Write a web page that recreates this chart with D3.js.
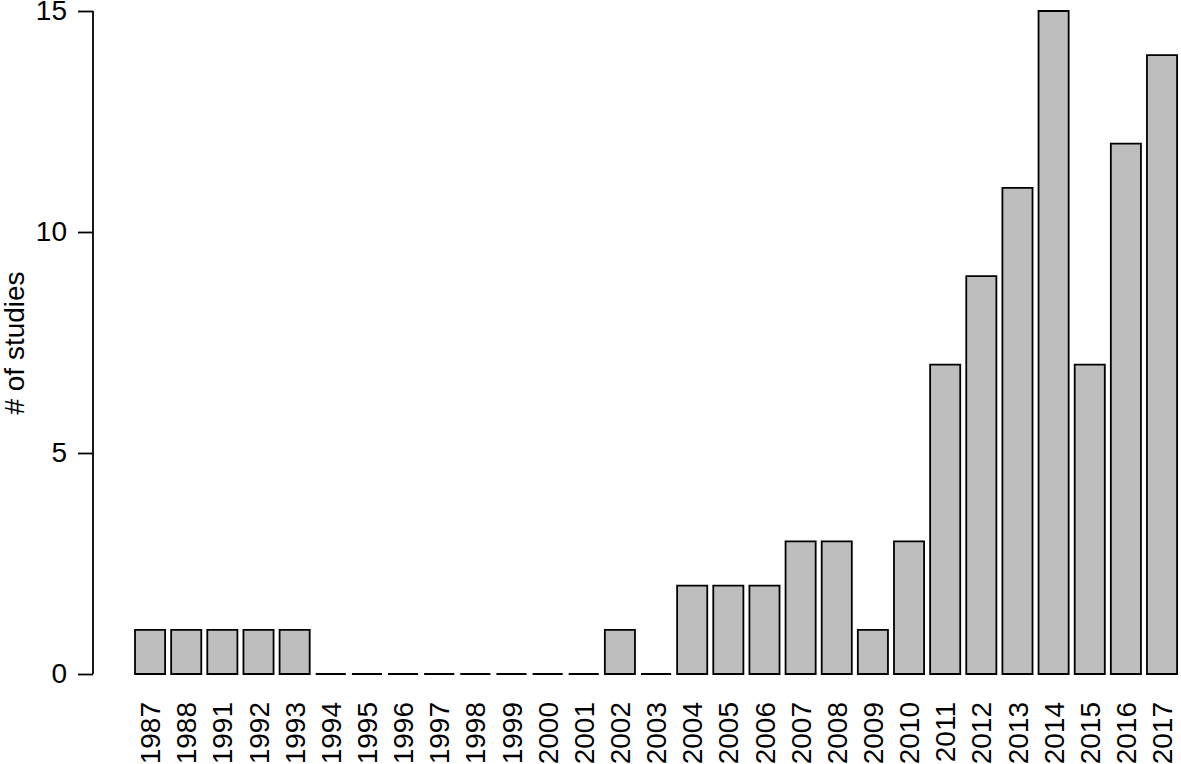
<!DOCTYPE html>
<html><head><meta charset="utf-8">
<script src="https://cdn.jsdelivr.net/npm/d3@7"></script>
<style>body{margin:0;background:#fff}svg{display:block}text{font-family:"Liberation Sans",Arial,sans-serif;fill:#000}</style>
</head><body>
<svg id="c" width="1181" height="764"></svg>
<script>
const years = ["1987","1988","1991","1992","1993","1994","1995","1996","1997","1998","1999","2000","2001","2002","2003","2004","2005","2006","2007","2008","2009","2010","2011","2012","2013","2014","2015","2016","2017"];
const counts = [1,1,1,1,1,0,0,0,0,0,0,0,0,1,0,2,2,2,3,3,1,3,7,9,11,15,7,12,14];
const yTicks = [0,5,10,15];
const yTitle = "# of studies";

const svg = d3.select("#c");
const x = d3.scaleBand().domain(years).range([132, 1180.1]).paddingInner(1/6).paddingOuter(1/12);
const y = d3.scaleLinear().domain([0,15]).range([674, 11]);
const bw = x.bandwidth();

svg.append("g").selectAll("path").data(years).join("path")
  .attr("d", (d,i) => {
    const x0 = x(d), y0 = y(0), y1 = y(counts[i]);
    return `M${x0},${y0}H${x0+bw}V${y1}H${x0}Z`;
  })
  .attr("fill", "#bebebe").attr("stroke", "#000").attr("stroke-width", 1.8)
  .attr("stroke-linejoin", "miter");

const yAxis = d3.axisLeft(y).tickValues(yTicks).tickSize(15).tickPadding(11).tickSizeOuter(0);
const ga = svg.append("g").attr("transform", "translate(93,0)").call(yAxis);
ga.select(".domain").attr("stroke-width", 1.8).attr("d", `M0,${y(0)}V${y(15)}`);
ga.selectAll(".tick line").attr("stroke-width", 1.8);
ga.selectAll(".tick text").attr("font-size", 28).attr("font-family", "Liberation Sans, Arial, sans-serif").attr("fill","#000");

svg.append("g").selectAll("text").data(years).join("text")
  .attr("transform", d => `translate(${x(d)+bw/2},702) rotate(-90)`)
  .attr("text-anchor", "end").attr("dy", "0.36em").attr("font-size", 28)
  .text(d => d);

svg.append("text").attr("transform", `translate(24,343) rotate(-90)`)
  .attr("text-anchor", "middle").attr("font-size", 28).text(yTitle);
</script>
</body></html>
